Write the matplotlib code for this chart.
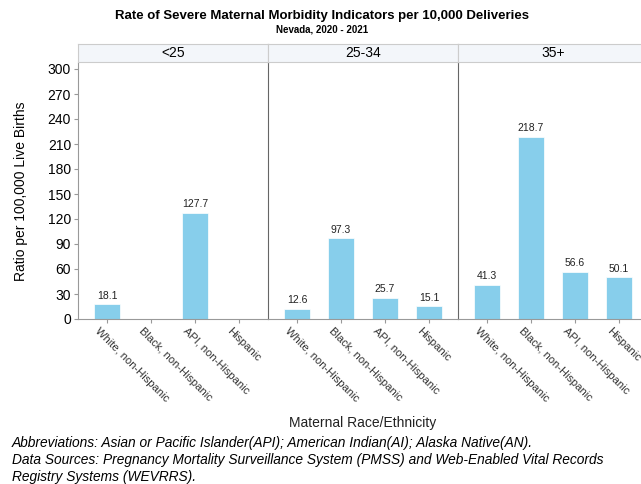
import numpy as np
import matplotlib.pyplot as plt

plt.rcParams['font.family'] = ['Liberation Sans', 'DejaVu Sans']

groups = ['<25', '25-34', '35+']
races = ['White, non-Hispanic', 'Black, non-Hispanic', 'API, non-Hispanic', 'Hispanic']
vals_lt25 = [18.1, np.nan, 127.7, np.nan]
vals_2534 = [12.6, 97.3, 25.7, 15.1]
vals_35 = [41.3, 218.7, 56.6, 50.1]
values = [vals_lt25, vals_2534, vals_35]
yticks = [0, 30, 60, 90, 120, 150, 180, 210, 240, 270, 300]

W, H = 641, 484
fig = plt.figure(figsize=(W / 100, H / 100), dpi=100)

left, right = 78, 648
pw = (right - left) / 3
bottom_px, top_px = 319, 63
ymax = 300 * (bottom_px - top_px) / (bottom_px - 69)

bar_col = '#87CEEB'
x = np.arange(len(races))
for i, (g, v) in enumerate(zip(groups, values)):
    x0 = left + i * pw
    ax = fig.add_axes([x0 / W, 1 - bottom_px / H, pw / W, (bottom_px - top_px) / H])
    ax.patch.set_visible(False)
    ax.bar(x, v, width=0.61, color=bar_col, edgecolor='white', linewidth=0.5)
    for xi, vi in zip(x, v):
        if not np.isnan(vi):
            ax.text(xi, vi + 4, f'{vi:.1f}', ha='center', va='bottom', fontsize=7.5, color='#222222')
    ax.set_xlim(-0.66, 3.66)
    ax.set_ylim(0, ymax)
    ax.set_yticks(yticks)
    ax.set_xticks(x)
    ax.set_xticklabels([])
    ax.tick_params(axis='x', length=3, color='#999999')
    ax.spines['top'].set_visible(False)
    ax.spines['bottom'].set_color('#999999')
    ax.spines['left'].set_color('#999999')
    ax.spines['right'].set_color('#666666')
    ax.spines['left'].set_visible(i == 0)
    if i == 0:
        ax.tick_params(axis='y', length=3, color='#999999', labelsize=10, pad=2)
        ax.set_ylabel('Ratio per 100,000 Live Births', fontsize=10, labelpad=14)
    else:
        ax.tick_params(axis='y', left=False, labelleft=False)
    for xi, lab in zip(x, races):
        ax.annotate(lab, xy=(xi, 0), xycoords=('data', 'axes fraction'),
                    xytext=(-5, -5), textcoords='offset points',
                    rotation=-45, rotation_mode='anchor', ha='left', va='top',
                    fontsize=8, color='#333333')

    hx = fig.add_axes([x0 / W, 1 - 62 / H, pw / W, 18 / H])
    hx.set_facecolor('#f3f6fa')
    hx.set_xticks([])
    hx.set_yticks([])
    for s in hx.spines.values():
        s.set_color('#cccccc')
    hx.text(0.5, 0.5, g, ha='center', va='center', fontsize=10, transform=hx.transAxes)

fig.text(322 / W, 1 - 16 / H, 'Rate of Severe Maternal Morbidity Indicators per 10,000 Deliveries',
         ha='center', va='center', fontsize=9.5, fontweight='bold')
fig.text(322 / W, 1 - 30 / H, 'Nevada, 2020 - 2021', ha='center', va='center', fontsize=7, fontweight='bold')
fig.text(363 / W, 1 - 423 / H, 'Maternal Race/Ethnicity', ha='center', va='center', fontsize=10, color='#222222')

notes = ['Abbreviations: Asian or Pacific Islander(API); American Indian(AI); Alaska Native(AN).',
         'Data Sources: Pregnancy Mortality Surveillance System (PMSS) and Web-Enabled Vital Records',
         'Registry Systems (WEVRRS).']
for k, line in enumerate(notes):
    fig.text(12 / W, 1 - (443 + 17 * k) / H, line, ha='left', va='center', fontsize=9.9, style='italic')

fig.savefig('out.png', dpi=100)
